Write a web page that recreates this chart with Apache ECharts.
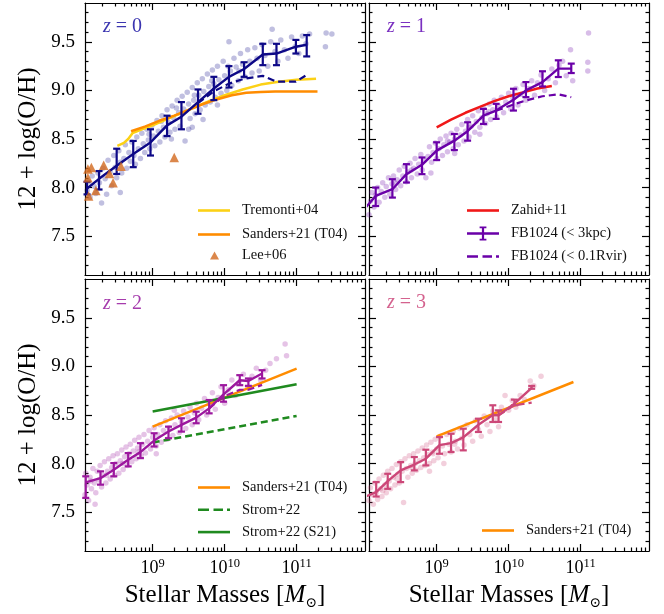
<!DOCTYPE html>
<html>
<head>
<meta charset="utf-8">
<script src="https://cdn.jsdelivr.net/npm/echarts@6/dist/echarts.min.js"></script>
<style>
html, body { margin: 0; padding: 0; background: #fff; }
#chart { width: 664px; height: 614px; }
</style>
</head>
<body>
<div id="chart"></div>
<script>
// ---------- axis ranges (x in log10 of stellar mass) ----------
const X_LOG_MIN = 8.06, X_LOG_MAX = 11.95;
const Y_MIN = 7.1, Y_MAX = 9.9;
const xMajorExp = [9, 10, 11];
const yMajorTicks = [7.5, 8.0, 8.5, 9.0, 9.5];

// ---------- z = 0 ----------
const massZ0 = [8.088, 8.255, 8.5, 8.73, 8.97, 9.2, 9.4, 9.63, 9.85, 10.06, 10.27, 10.53, 10.72, 10.99, 11.14];
const medZ0  = [7.99, 8.09, 8.225, 8.345, 8.465, 8.64, 8.73, 8.88, 9.02, 9.14, 9.22, 9.37, 9.38, 9.45, 9.47];
const loZ0   = [7.93, 7.98, 8.14, 8.21, 8.33, 8.53, 8.60, 8.76, 8.90, 9.03, 9.14, 9.26, 9.26, 9.38, 9.35];
const hiZ0   = [8.06, 8.17, 8.40, 8.48, 8.60, 8.74, 8.88, 9.01, 9.14, 9.25, 9.29, 9.48, 9.48, 9.52, 9.57];
const dashMassZ0 = [9.63, 9.85, 10.06, 10.27, 10.53, 10.72, 10.99, 11.14];
const dashZ0     = [8.87, 8.99, 9.07, 9.12, 9.15, 9.09, 9.09, 9.16];
const tremontiMass = [8.51, 8.6, 8.66, 8.72, 8.85, 9.0, 9.25, 9.5, 9.75, 10.0, 10.25, 10.5, 10.75, 11.0, 11.27];
const tremontiZ    = [8.43, 8.46, 8.50, 8.56, 8.60, 8.64, 8.72, 8.80, 8.88, 8.95, 9.01, 9.06, 9.09, 9.11, 9.12];
const sandersMassZ0 = [8.7, 8.9, 9.1, 9.3, 9.5, 9.7, 9.9, 10.1, 10.3, 10.5, 10.7, 11.0, 11.29];
const sandersZ0     = [8.58, 8.63, 8.69, 8.74, 8.80, 8.86, 8.91, 8.95, 8.975, 8.985, 8.99, 8.99, 8.99];
const leeMass = [8.10, 8.149, 8.10, 8.11, 8.32, 8.21, 8.40, 8.45, 8.56, 9.30];
const leeZ    = [8.19, 8.207, 8.10, 7.914, 8.23, 7.97, 8.145, 8.05, 8.22, 8.31];
const scatterZ0 = [
  [8.09,7.97],[8.11,8.06],[8.13,7.9],[8.16,8.12],[8.19,8.01],[8.21,7.94],[8.24,8.15],[8.26,8.05],[8.29,7.84],[8.31,8.2],
  [8.34,8.09],[8.36,7.93],[8.38,8.28],[8.41,8.16],[8.43,8.02],[8.46,8.33],[8.48,8.21],[8.5,8.1],[8.53,8.38],[8.55,8.26],
  [8.57,8.15],[8.6,8.3],[8.62,8.44],[8.64,8.2],[8.67,8.36],[8.69,8.27],[8.71,8.47],[8.74,8.33],[8.76,8.24],[8.78,8.52],
  [8.8,8.4],[8.83,8.3],[8.85,8.56],[8.87,8.45],[8.89,8.36],[8.92,8.6],[8.94,8.49],[8.96,8.4],[8.99,8.64],[9.01,8.53],
  [9.03,8.43],[9.06,8.69],[9.08,8.58],[9.1,8.47],[9.13,8.74],[9.15,8.62],[9.17,8.52],[9.2,8.8],[9.22,8.67],[9.24,8.57],
  [9.27,8.84],[9.29,8.72],[9.31,8.6],[9.34,8.9],[9.36,8.77],[9.38,8.63],[9.41,8.94],[9.43,8.81],[9.45,8.48],[9.48,8.98],
  [9.5,8.86],[9.52,8.71],[9.55,9.03],[9.57,8.9],[9.59,8.76],[9.62,9.08],[9.64,8.95],[9.66,8.8],[9.69,9.12],[9.71,8.99],
  [9.73,8.85],[9.76,9.17],[9.78,9.04],[9.8,8.88],[9.83,9.21],[9.85,9.07],[9.87,8.93],[9.9,9.25],[9.92,9.11],[9.95,8.97],
  [9.98,9.3],[10.0,9.15],[10.03,9.0],[10.06,9.5],[10.08,9.2],[10.1,9.05],[10.13,9.33],[10.16,9.24],[10.19,9.1],[10.22,9.38],
  [10.25,9.27],[10.28,9.14],[10.32,9.42],[10.35,9.3],[10.38,9.18],[10.42,9.44],[10.45,9.33],[10.48,9.2],[10.52,9.47],[10.56,9.36],
  [10.6,9.25],[10.64,9.5],[10.66,9.63],[10.7,9.4],[10.74,9.3],[10.78,9.52],[10.83,9.42],[10.88,9.33],[10.93,9.55],[10.98,9.45],
  [11.03,9.38],[11.08,9.56],[11.13,9.48],[11.18,9.58],[11.4,9.45],[11.41,9.59],[11.49,9.58],[9.55,8.62],[9.7,8.7],[8.55,7.95],
  [9.12,8.68],[9.33,8.82],[9.58,8.95],[9.82,9.1],[10.05,9.25],[9.26,8.5],[9.5,8.6],[9.9,8.85],[10.2,9.2],[8.95,8.55]
];

// ---------- z = 1 ----------
const massZ1 = [7.95, 8.153, 8.385, 8.58, 8.796, 9.0, 9.246, 9.43, 9.65, 9.826, 10.067, 10.24, 10.47, 10.69, 10.87];
const medZ1  = [7.74, 7.914, 7.983, 8.138, 8.234, 8.38, 8.483, 8.58, 8.74, 8.793, 8.903, 9.0, 9.086, 9.224, 9.224];
const loZ1   = [null, 7.81, 7.897, 8.052, 8.138, 8.283, 8.386, 8.483, 8.655, 8.707, 8.793, 8.931, 9.041, 9.138, 9.179];
const hiZ1   = [null, 8.0, 8.086, 8.241, 8.31, 8.466, 8.552, 8.672, 8.81, 8.862, 9.017, 9.086, 9.197, 9.31, 9.276];
const dashMassZ1 = [9.826, 10.067, 10.24, 10.47, 10.69, 10.87];
const dashZ1     = [8.79, 8.855, 8.897, 8.94, 8.96, 8.93];
const zahidMass = [9.0, 9.2, 9.4, 9.6, 9.8, 10.0, 10.2, 10.4, 10.6];
const zahidZ    = [8.62, 8.70, 8.77, 8.83, 8.89, 8.94, 8.98, 9.02, 9.045];
const scatterZ1 = [
  [8.06,7.72],[8.08,7.86],[8.1,7.95],[8.13,7.8],[8.15,7.92],[8.18,8.0],[8.2,7.85],[8.23,7.96],[8.25,8.05],[8.28,7.9],
  [8.3,8.01],[8.33,8.1],[8.35,7.93],[8.38,8.04],[8.4,8.12],[8.43,7.98],[8.45,8.08],[8.48,8.18],[8.5,8.02],[8.53,8.12],
  [8.55,8.22],[8.58,8.06],[8.6,8.16],[8.63,8.25],[8.65,8.1],[8.68,8.2],[8.7,8.3],[8.73,8.14],[8.75,8.24],[8.78,8.34],
  [8.8,8.18],[8.83,8.28],[8.85,8.1],[8.88,8.32],[8.9,8.42],[8.93,8.26],[8.95,8.36],[8.98,8.46],[9.0,8.3],[9.03,8.4],
  [9.05,8.5],[9.08,8.33],[9.1,8.44],[9.13,8.53],[9.15,8.37],[9.18,8.47],[9.2,8.56],[9.23,8.4],[9.25,8.5],[9.28,8.6],
  [9.3,8.44],[9.33,8.54],[9.35,8.65],[9.38,8.48],[9.4,8.58],[9.43,8.7],[9.45,8.52],[9.48,8.63],[9.5,8.74],[9.53,8.57],
  [9.55,8.68],[9.58,8.79],[9.6,8.62],[9.63,8.72],[9.65,8.82],[9.68,8.66],[9.7,8.76],[9.73,8.86],[9.75,8.7],[9.78,8.8],
  [9.8,8.9],[9.83,8.73],[9.86,8.84],[9.9,8.93],[9.93,8.77],[9.96,8.88],[10.0,8.97],[10.03,8.81],[10.06,8.92],[10.1,9.02],
  [10.13,8.85],[10.17,8.96],[10.2,9.06],[10.24,8.9],[10.28,9.02],[10.32,9.1],[10.36,8.95],[10.4,9.08],[10.45,9.16],[10.5,9.0],
  [10.55,9.12],[10.6,9.22],[10.65,9.08],[10.7,9.26],[10.75,9.3],[10.8,9.15],[10.86,9.42],[10.89,9.1],[11.1,9.29],[11.1,9.2],
  [11.11,9.59],[9.25,8.35],[8.92,8.15],[9.6,8.55],[8.65,8.18],[9.15,8.48],[9.45,8.62],[9.72,8.78],[8.42,8.05],[10.1,8.95]
];

// ---------- z = 2 ----------
const massZ2 = [8.07, 8.275, 8.46, 8.66, 8.83, 9.02, 9.22, 9.4, 9.605, 9.785, 9.985, 10.21, 10.33, 10.52];
const medZ2  = [7.807, 7.85, 7.937, 8.04, 8.118, 8.237, 8.33, 8.398, 8.473, 8.568, 8.712, 8.858, 8.85, 8.927];
const loZ2   = [7.647, 7.783, 7.869, 7.971, 8.056, 8.176, 8.261, 8.329, 8.415, 8.517, 8.637, 8.807, 8.80, 8.876];
const hiZ2   = [7.869, 7.92, 8.005, 8.108, 8.21, 8.312, 8.38, 8.466, 8.534, 8.654, 8.807, 8.91, 8.876, 8.961];
const dashMassZ2 = [9.785, 9.985, 10.21, 10.33, 10.52];
const dashZ2     = [8.568, 8.69, 8.76, 8.76, 8.81];
const sandersMassZ2 = [9.0, 11.0];
const sandersZ2     = [8.38, 8.978];
const stromS21Mass = [9.0, 11.0];
const stromS21Z    = [8.535, 8.817];
const stromMass = [9.0, 11.0];
const stromZ    = [8.217, 8.49];
const scatterZ2 = [
  [8.06,7.68],[8.07,7.9],[8.09,7.78],[8.11,7.62],[8.13,7.86],[8.15,7.74],[8.17,7.95],[8.19,7.8],[8.21,7.7],[8.23,7.92],
  [8.25,7.83],[8.27,7.98],[8.29,7.76],[8.31,7.88],[8.33,8.02],[8.35,7.8],[8.37,7.92],[8.39,8.05],[8.41,7.84],[8.43,7.96],
  [8.45,8.08],[8.47,7.88],[8.49,8.0],[8.51,8.1],[8.53,7.9],[8.55,8.03],[8.57,8.14],[8.59,7.94],[8.61,8.07],[8.63,8.17],
  [8.65,7.98],[8.67,8.1],[8.69,8.2],[8.71,8.02],[8.73,8.13],[8.75,8.24],[8.77,8.05],[8.79,8.16],[8.81,8.27],[8.84,8.08],
  [8.86,8.2],[8.88,8.3],[8.9,8.11],[8.93,8.23],[8.95,8.34],[8.97,8.15],[9.0,8.27],[9.02,8.37],[9.05,8.18],[9.07,8.3],
  [9.1,8.4],[9.12,8.22],[9.15,8.34],[9.18,8.44],[9.2,8.25],[9.23,8.37],[9.26,8.47],[9.28,8.29],[9.31,8.4],[9.34,8.5],
  [9.37,8.32],[9.4,8.43],[9.43,8.54],[9.46,8.36],[9.49,8.48],[9.52,8.58],[9.55,8.4],[9.58,8.52],[9.61,8.62],[9.64,8.45],
  [9.68,8.57],[9.72,8.67],[9.75,8.5],[9.79,8.62],[9.83,8.73],[9.87,8.56],[9.91,8.68],[9.95,8.79],[10.0,8.62],[10.05,8.76],
  [10.1,8.86],[10.15,8.7],[10.2,8.83],[10.26,8.92],[10.32,8.78],[10.38,8.9],[10.44,8.98],[10.5,8.86],[10.57,8.96],[10.63,9.03],
  [10.72,9.08],[10.84,9.23],[10.86,9.11],[9.05,8.1],[8.2,7.58],[9.3,8.55],[8.14,7.82],[8.36,7.88],[8.58,8.0],[8.8,8.12]
];

// ---------- z = 3 ----------
const massZ3 = [7.95, 8.16, 8.32, 8.5, 8.69, 8.85, 9.04, 9.2, 9.37, 9.58, 9.78, 9.86, 10.08, 10.32];
const medZ3  = [7.64, 7.706, 7.82, 7.93, 7.99, 8.05, 8.19, 8.21, 8.27, 8.40, 8.50, 8.497, 8.617, 8.78];
const loZ3   = [null, 7.661, 7.74, 7.809, 7.93, 7.981, 8.101, 8.119, 8.136, 8.325, 8.428, 8.428, 8.60, 8.77];
const hiZ3   = [null, 7.809, 7.895, 8.015, 8.067, 8.143, 8.273, 8.307, 8.359, 8.462, 8.60, 8.548, 8.658, 8.80];
const dashMassZ3 = [9.86, 10.08, 10.32];
const dashZ3     = [8.497, 8.60, 8.627];
const sandersMassZ3 = [9.0, 10.9];
const sandersZ3     = [8.28, 8.84];
const scatterZ3 = [
  [8.06,7.62],[8.08,7.75],[8.1,7.68],[8.12,7.58],[8.14,7.8],[8.16,7.7],[8.18,7.63],[8.2,7.84],[8.22,7.74],[8.24,7.66],
  [8.26,7.88],[8.28,7.78],[8.3,7.7],[8.32,7.92],[8.34,7.82],[8.36,7.74],[8.38,7.95],[8.4,7.86],[8.42,7.78],[8.44,7.99],
  [8.46,7.89],[8.48,7.8],[8.5,8.02],[8.52,7.92],[8.54,7.6],[8.56,8.05],[8.58,7.95],[8.6,7.86],[8.62,8.08],[8.64,7.98],
  [8.66,7.9],[8.68,8.1],[8.7,8.0],[8.72,7.93],[8.74,8.13],[8.76,8.03],[8.78,7.96],[8.8,8.16],[8.82,8.06],[8.84,7.98],
  [8.86,8.19],[8.88,8.09],[8.9,8.0],[8.92,8.22],[8.94,8.12],[8.96,8.03],[8.98,8.25],[9.0,8.15],[9.02,8.06],[9.05,8.28],
  [9.08,8.18],[9.11,8.1],[9.14,8.3],[9.17,8.2],[9.2,8.12],[9.23,8.33],[9.26,8.23],[9.29,8.15],[9.32,8.36],[9.35,8.26],
  [9.38,8.19],[9.42,8.4],[9.46,8.3],[9.5,8.23],[9.54,8.44],[9.58,8.35],[9.62,8.28],[9.66,8.49],[9.7,8.4],[9.74,8.33],
  [9.78,8.54],[9.82,8.45],[9.86,8.38],[9.9,8.58],[9.95,8.7],[10.0,8.55],[10.05,8.65],[10.1,8.58],[10.16,8.7],[10.22,8.66],
  [10.3,8.85],[10.35,8.8],[10.45,8.9],[8.9,7.92],[9.1,8.0],[8.25,7.72],[8.45,7.84],[8.65,7.96],[8.95,8.1],[9.25,8.2]
];

// ---------- styling ----------
const SERIF = 'Liberation Serif';
const COL_Z = ['#0d0887', '#6a00a8', '#9c179e', '#cc4778'];
const COL_TITLE = ['#3b35b0', '#7a30c0', '#a63cad', '#d4628e'];
const COL_TREMONTI = '#fcd116';
const COL_SANDERS = '#ff8c00';
const COL_ZAHID = '#f01818';
const COL_STROM = '#1f8a1f';
const COL_LEE = '#d2691e';
const AX = { color: '#000', width: 1.2 };

const ICON_LINE = 'path://M0,0H32V2.6H0Z';
const ICON_DASH = 'path://M0,0H11V2.4H0Z M15.5,0H25V2.4H15.5Z M29,0H32V2.4H29Z';
const ICON_ERR = 'path://M0,5.7H32V8.3H0Z M14.9,0H17.1V14H14.9Z M12.6,0H19.4V1.8H12.6Z M12.6,12.2H19.4V14H12.6Z';

const toMass = lx => Math.pow(10, lx);
const xMajorVals = xMajorExp.map(toMass);
const xMinorVals = [];
for (let d = 8; d <= 11; d++) {
  for (let k = 2; k <= 9; k++) {
    const lv = d + Math.log10(k);
    if (lv > X_LOG_MIN && lv < X_LOG_MAX) xMinorVals.push(k * Math.pow(10, d));
  }
}
const yMinorVals = [];
for (let i = 72; i <= 98; i++) if (i % 5 !== 0) yMinorVals.push(i / 10);

const grids = [
  { left: 85, top: 3, width: 280, height: 272 },
  { left: 369, top: 3, width: 280, height: 272 },
  { left: 85, top: 279, width: 280, height: 272 },
  { left: 369, top: 279, width: 280, height: 272 }
].map(g => Object.assign({ outerBoundsMode: 'none', containLabel: false }, g));

const xAxes = [], yAxes = [];
function addAxes(g, showX, showY) {
  const xb = { gridIndex: g, type: 'log', logBase: 10, min: toMass(X_LOG_MIN), max: toMass(X_LOG_MAX),
    splitLine: { show: false }, minorTick: { show: false } };
  const majX = (pos, labels) => Object.assign({}, xb, {
    position: pos,
    axisLine: { show: true, onZero: false, lineStyle: AX },
    axisTick: { show: true, inside: true, length: 7, customValues: xMajorVals, lineStyle: AX },
    axisLabel: { show: labels, customValues: xMajorVals, margin: 6,
      formatter: v => '{b|10}{s|' + Math.round(Math.log10(v)) + '}',
      rich: { b: { fontFamily: SERIF, fontSize: 18, color: '#000', lineHeight: 22 },
              s: { fontFamily: SERIF, fontSize: 12.5, color: '#000', verticalAlign: 'top' } } },
    name: labels ? 'Stellar Masses [{i|M}{sub|\u2299}]' : '',
    nameLocation: 'middle', nameGap: 30,
    nameTextStyle: { fontFamily: SERIF, fontSize: 25, color: '#000', lineHeight: 29,
      rich: { i: { fontFamily: SERIF, fontStyle: 'italic', fontSize: 25, color: '#000' },
              sub: { fontFamily: 'DejaVu Serif', fontSize: 14, color: '#000', verticalAlign: 'bottom' } } }
  });
  const minX = pos => Object.assign({}, xb, {
    position: pos,
    axisLine: { show: false, onZero: false },
    axisTick: { show: true, inside: true, length: 3.5, customValues: xMinorVals, lineStyle: AX },
    axisLabel: { show: false, customValues: xMinorVals }
  });
  xAxes.push(majX('bottom', showX), minX('bottom'), majX('top', false), minX('top'));

  const yb = { gridIndex: g, type: 'value', min: Y_MIN, max: Y_MAX, splitLine: { show: false } };
  const majY = (pos, labels) => Object.assign({}, yb, {
    position: pos,
    axisLine: { show: true, onZero: false, lineStyle: AX },
    axisTick: { show: true, inside: true, length: 7, customValues: yMajorTicks, lineStyle: AX },
    axisLabel: { show: labels, customValues: yMajorTicks, margin: 10,
      formatter: v => v.toFixed(1), fontFamily: SERIF, fontSize: 19, color: '#000' },
    name: labels ? '12 + log(O/H)' : '',
    nameLocation: 'middle', nameRotate: 90, nameGap: 44,
    nameTextStyle: { fontFamily: SERIF, fontSize: 25, color: '#000' }
  });
  const minY = pos => Object.assign({}, yb, {
    position: pos,
    axisLine: { show: false, onZero: false },
    axisTick: { show: true, inside: true, length: 3.5, customValues: yMinorVals, lineStyle: AX },
    axisLabel: { show: false, customValues: yMinorVals }
  });
  yAxes.push(majY('left', showY), minY('left'), majY('right', false), minY('right'));
}
addAxes(0, false, true);
addAxes(1, false, false);
addAxes(2, true, true);
addAxes(3, true, false);

// ---------- series builders ----------
const pairs = (xs, ys) => xs.map((x, i) => [toMass(x), ys[i]]);

function lineS(name, g, xs, ys, color, width, dashed, z) {
  return { type: 'line', name, xAxisIndex: 4 * g, yAxisIndex: 4 * g, data: pairs(xs, ys),
    symbol: 'none', showSymbol: false, clip: true, silent: true, z,
    lineStyle: { color, width, type: dashed ? [7, 4] : 'solid' }, itemStyle: { color } };
}
function cloudS(name, g, pts, color) {
  return { type: 'scatter', name, xAxisIndex: 4 * g, yAxisIndex: 4 * g,
    data: pts.map(p => [toMass(p[0]), p[1]]), symbolSize: 5.5, silent: true, z: 1,
    itemStyle: { color, opacity: 0.26 } };
}
function errS(name, g, xs, lo, hi, color) {
  const data = [];
  xs.forEach((x, i) => { if (lo[i] != null) data.push([toMass(x), lo[i], hi[i]]); });
  return { type: 'custom', name, xAxisIndex: 4 * g, yAxisIndex: 4 * g, data, silent: true, z: 4,
    encode: { x: 0, y: [1, 2] },
    renderItem: (params, api) => {
      const a = api.coord([api.value(0), api.value(1)]);
      const b = api.coord([api.value(0), api.value(2)]);
      const cap = 3.5, st = { stroke: color, lineWidth: 2.2 };
      return { type: 'group', children: [
        { type: 'line', shape: { x1: a[0], y1: a[1], x2: b[0], y2: b[1] }, style: st },
        { type: 'line', shape: { x1: a[0] - cap, y1: a[1], x2: a[0] + cap, y2: a[1] }, style: st },
        { type: 'line', shape: { x1: b[0] - cap, y1: b[1], x2: b[0] + cap, y2: b[1] }, style: st }
      ] };
    } };
}

const series = [
  // z = 0
  cloudS('cloud z0', 0, scatterZ0, COL_Z[0]),
  lineS('Tremonti+04', 0, tremontiMass, tremontiZ, COL_TREMONTI, 2.5, false, 2),
  lineS('Sanders+21 (T04)', 0, sandersMassZ0, sandersZ0, COL_SANDERS, 2.5, false, 2),
  lineS('inner z0', 0, dashMassZ0, dashZ0, COL_Z[0], 2.2, true, 3),
  lineS('median z0', 0, massZ0, medZ0, COL_Z[0], 2.4, false, 3),
  errS('bars z0', 0, massZ0, loZ0, hiZ0, COL_Z[0]),
  { type: 'scatter', name: 'Lee+06', xAxisIndex: 0, yAxisIndex: 0, data: pairs(leeMass, leeZ),
    symbol: 'triangle', symbolSize: 9.5, silent: true, z: 5, itemStyle: { color: COL_LEE } },
  // z = 1
  cloudS('cloud z1', 1, scatterZ1, COL_Z[1]),
  lineS('Zahid+11', 1, zahidMass, zahidZ, COL_ZAHID, 2.5, false, 2),
  lineS('FB1024 (< 0.1Rvir)', 1, dashMassZ1, dashZ1, COL_Z[1], 2.2, true, 3),
  lineS('FB1024 (< 3kpc)', 1, massZ1, medZ1, COL_Z[1], 2.4, false, 3),
  errS('bars z1', 1, massZ1, loZ1, hiZ1, COL_Z[1]),
  // z = 2
  cloudS('cloud z2', 2, scatterZ2, COL_Z[2]),
  lineS('Sanders+21 (T04) z2', 2, sandersMassZ2, sandersZ2, COL_SANDERS, 2.5, false, 2),
  lineS('Strom+22', 2, stromMass, stromZ, COL_STROM, 2.5, true, 2),
  lineS('Strom+22 (S21)', 2, stromS21Mass, stromS21Z, COL_STROM, 2.5, false, 2),
  lineS('inner z2', 2, dashMassZ2, dashZ2, COL_Z[2], 2.2, true, 3),
  lineS('median z2', 2, massZ2, medZ2, COL_Z[2], 2.4, false, 3),
  errS('bars z2', 2, massZ2, loZ2, hiZ2, COL_Z[2]),
  // z = 3
  cloudS('cloud z3', 3, scatterZ3, COL_Z[3]),
  lineS('Sanders+21 (T04) z3', 3, sandersMassZ3, sandersZ3, COL_SANDERS, 2.5, false, 2),
  lineS('inner z3', 3, dashMassZ3, dashZ3, COL_Z[3], 2.2, true, 3),
  lineS('median z3', 3, massZ3, medZ3, COL_Z[3], 2.4, false, 3),
  errS('bars z3', 3, massZ3, loZ3, hiZ3, COL_Z[3])
];

// ---------- legends ----------
function legendBox(left, top, items, w, h, gap, textPad) {
  return { orient: 'vertical', left, top, padding: 0, itemWidth: w, itemHeight: h, itemGap: gap,
    selectedMode: false, itemStyle: { borderWidth: 0 },
    textStyle: { fontFamily: SERIF, fontSize: 14.5, color: '#111', padding: [0, 0, 0, textPad] },
    data: items.map(it => ({ name: it[0], icon: it[1] })) };
}
const legend = [
  legendBox(198, 203, [['Tremonti+04', ICON_LINE], ['Sanders+21 (T04)', ICON_LINE]], 32, 14, 9, 7),
  legendBox(210, 248, [['Lee+06', 'triangle']], 9, 8, 8, 18),
  legendBox(467, 203, [['Zahid+11', ICON_LINE], ['FB1024 (< 3kpc)', ICON_ERR], ['FB1024 (< 0.1Rvir)', ICON_DASH]], 32, 14, 8, 7),
  legendBox(198, 480, [['Sanders+21 (T04)', ICON_LINE], ['Strom+22', ICON_DASH], ['Strom+22 (S21)', ICON_LINE]], 32, 14, 7.3, 7),
  legendBox(482, 523, [['Sanders+21 (T04)', ICON_LINE]], 32, 14, 8, 7)
];

// ---------- panel labels ----------
const panelPos = [[103, 17], [387, 17], [103, 294], [387, 293]];
const title = panelPos.map((p, i) => ({
  text: '{i|z} = ' + i, left: p[0], top: p[1], padding: 0,
  textStyle: { fontFamily: SERIF, fontSize: 20, fontWeight: 'normal', color: COL_TITLE[i],
    rich: { i: { fontFamily: SERIF, fontStyle: 'italic', fontSize: 20, color: COL_TITLE[i] } } }
}));

const chart = echarts.init(document.getElementById('chart'), null, { renderer: 'canvas' });
chart.setOption({
  backgroundColor: '#fff',
  animation: false,
  title, grid: grids, xAxis: xAxes, yAxis: yAxes, legend, series
});
</script>
</body>
</html>
